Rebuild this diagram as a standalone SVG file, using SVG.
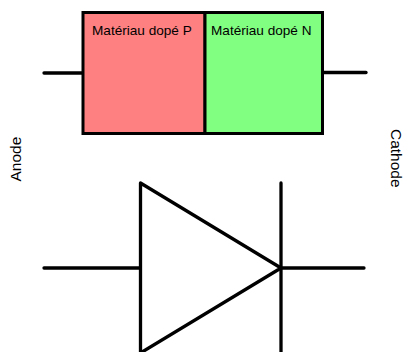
<svg xmlns="http://www.w3.org/2000/svg" width="403" height="352" viewBox="0 0 403 352">
<style>
.l{stroke:#000;stroke-width:3.300;fill:none;stroke-linecap:round;stroke-linejoin:round}
.b{stroke:#000;stroke-width:3}
text{font-family:"Liberation Sans",Arial,sans-serif;fill:#000}
.m{font-size:13.600px}
.v{font-size:15.500px}
</style>
<rect width="403" height="352" fill="#fff"/>
<g id="connectors">
<path class="l" d="M44 73H82"/>
<path class="l" d="M324 72.500H366"/>
<path class="l" d="M44 268H140"/>
<path class="l" d="M281 268H364"/>
</g>
<g id="p-material">
<rect class="b" x="83" y="12.500" width="122" height="121" fill="#ff8080"/>
<text class="m" x="92" y="35">Matériau dopé P</text>
</g>
<g id="n-material">
<rect class="b" x="205" y="12.500" width="117.500" height="121" fill="#80ff80"/>
<text class="m" x="211" y="35">Matériau dopé N</text>
</g>
<g id="anode-label"><text class="v" transform="translate(21.300 181.500) rotate(-90)">Anode</text></g>
<g id="cathode-label"><text class="v" transform="translate(391.300 129) rotate(90)">Cathode</text></g>
<g id="diode">
<path class="l" d="M140.500 183L281 268L140.500 353Z"/>
<path class="l" d="M281 183V353"/>
</g>
</svg>
